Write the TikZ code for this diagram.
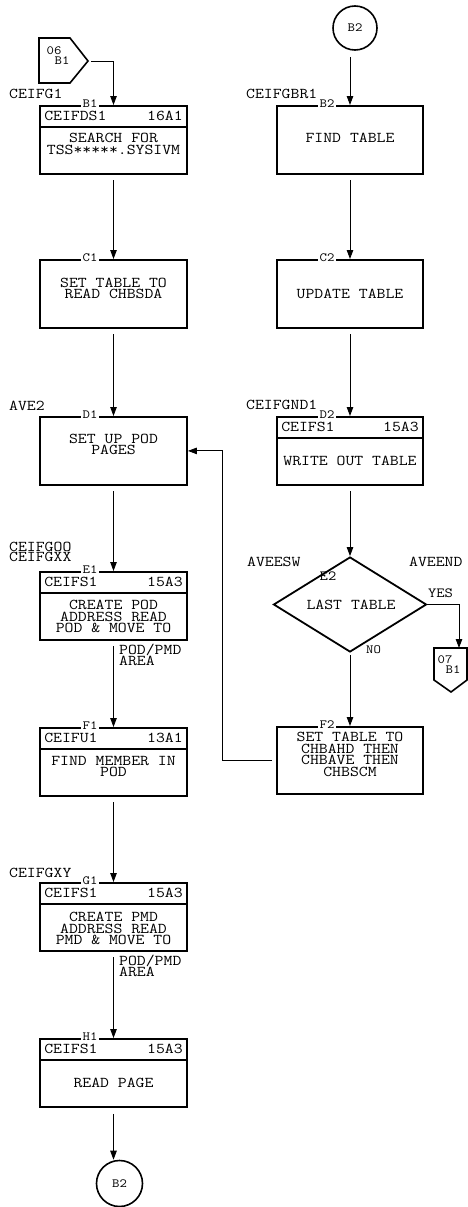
\documentclass[tikz,border=0pt]{standalone}
\usepackage{fontspec}
\newfontfamily\mono{Latin Modern Mono}[FakeStretch=1.15]
\usetikzlibrary{arrows.meta,calc,shapes.geometric}
\begin{document}
\begin{tikzpicture}[x=1pt,y=-1pt,
  box/.style={draw,line width=1.8pt,minimum width=147pt,minimum height=68pt,inner sep=0pt,anchor=north},
  divline/.style={line width=1.3pt},
  arr/.style={line width=0.9pt,-{Triangle[length=9pt,width=6.5pt]}},
  txt/.style={font=\mono\fontsize{15}{11.5}\selectfont,align=center,inner sep=0pt},
  side/.style={font=\mono\fontsize{15}{11}\selectfont,anchor=west,inner sep=0pt,align=left},
  hdrl/.style={font=\mono\fontsize{15}{11}\selectfont,anchor=west,inner sep=0pt},
  hdrr/.style={font=\mono\fontsize{15}{11}\selectfont,anchor=east,inner sep=0pt},
  edgelbl/.style={font=\mono\fontsize{12.5}{11}\selectfont,fill=white,inner sep=1.2pt},
  small/.style={font=\mono\fontsize{12.5}{11}\selectfont,inner sep=0pt},
  circ/.style={draw,circle,line width=1.6pt,inner sep=0pt,font=\mono\fontsize{12.5}{11}\selectfont},
  dia/.style={draw,diamond,line width=1.8pt,inner sep=0pt,minimum width=153pt,minimum height=95pt},
  conn/.style={line width=1.6pt,line join=miter}
]
\lineskiplimit=-20pt
\fill[white] (0,0) rectangle (468,1207);
\useasboundingbox (0,0) rectangle (468,1207);

% ---------- left column ----------
\draw[conn] (39,38) -- (70,38) -- (88,61) -- (70,83) -- (39,83) -- cycle;
\coordinate (c06) at (88,61);
\node[small] (c06a) at (54,51) {06};
\node[small] (c06b) at (62,61) {B1};

\node[box] (b1) at (113.5,105) {};
\node[box] (c1) at (113.5,259) {};
\node[box] (d1) at (113.5,416) {};
\node[box] (e1) at (113.5,571) {};
\node[box] (f1) at (113.5,727) {};
\node[box] (g1) at (113.5,882) {};
\node[box] (h1) at (113.5,1038) {};
\node[circ,minimum size=46pt] (bb2) at (119.5,1183.5) {B2};

% header dividers
\foreach \n in {b1,e1,f1,g1,h1}{
  \draw[divline] ($(\n.north west)+(0,22)$) -- ($(\n.north east)+(0,22)$);
}

% edge labels
\node[edgelbl] (lb1) at (90,104) {B1};
\node[edgelbl] (lc1) at (90,258) {C1};
\node[edgelbl] (ld1) at (90,415) {D1};
\node[edgelbl] (le1) at (90,570) {E1};
\node[edgelbl] (lf1) at (90,726) {F1};
\node[edgelbl] (lg1) at (90,881) {G1};
\node[edgelbl] (lh1) at (90,1037) {H1};

% header texts
\node[hdrl] (hb1l) at ($(b1.north west)+(5,11)$) {CEIFDS1};
\node[hdrr] (hb1r) at ($(b1.north east)+(-5,11)$) {16A1};
\node[hdrl] (he1l) at ($(e1.north west)+(5,11)$) {CEIFS1};
\node[hdrr] (he1r) at ($(e1.north east)+(-5,11)$) {15A3};
\node[hdrl] (hf1l) at ($(f1.north west)+(5,11)$) {CEIFU1};
\node[hdrr] (hf1r) at ($(f1.north east)+(-5,11)$) {13A1};
\node[hdrl] (hg1l) at ($(g1.north west)+(5,11)$) {CEIFS1};
\node[hdrr] (hg1r) at ($(g1.north east)+(-5,11)$) {15A3};
\node[hdrl] (hh1l) at ($(h1.north west)+(5,11)$) {CEIFS1};
\node[hdrr] (hh1r) at ($(h1.north east)+(-5,11)$) {15A3};

% body texts
\node[txt] (tb1) at (113.5,144) {SEARCH FOR\\{TSS*****.SYSIVM}};
\node[txt] (tc1) at (113.5,288.5) {SET TABLE TO\\READ CHBSDA};
\node[txt] (td1) at (113.5,444.5) {SET UP POD\\PAGES};
\node[txt] (te1) at (113.5,616.5) {CREATE POD\\ADDRESS READ\\POD \& MOVE TO};
\node[txt] (tf1) at (113.5,766.5) {FIND MEMBER IN\\POD};
\node[txt] (tg1) at (113.5,928.5) {CREATE PMD\\ADDRESS READ\\PMD \& MOVE TO};
\node[txt] (th1) at (113.5,1083) {READ PAGE};

% side labels
\node[side] (sceifg1) at (9,94) {CEIFG1};
\node[side] (save2) at (9,405.5) {AVE2};
\node[side,font=\mono\fontsize{15}{9.5}\selectfont] (sceifgoo) at (9,552) {CEIFGOO\\CEIFGXX};
\node[side] (sceifgxy) at (9,872.5) {CEIFGXY};
\node[side] (spod1) at (119,655) {POD/PMD\\AREA};
\node[side] (spod2) at (119,966) {POD/PMD\\AREA};

% ---------- right column ----------
\node[circ,minimum size=44pt] (tb2) at (355,28) {B2};
\node[box,minimum width=146pt] (b2) at (350,105) {};
\node[box,minimum width=146pt] (c2) at (350,259) {};
\node[box,minimum width=146pt] (d2) at (350,416) {};
\node[dia] (e2) at (350,604.5) {};
\node[box,minimum width=146pt,minimum height=67pt] (f2) at (350,726) {};

\draw[divline] ($(d2.north west)+(0,22)$) -- ($(d2.north east)+(0,22)$);

\node[edgelbl] (lb2) at (327,104) {B2};
\node[edgelbl] (lc2) at (327,258) {C2};
\node[edgelbl] (ld2) at (327,415) {D2};
\node[edgelbl] (lf2) at (327,725) {F2};

\node[hdrl] (hd2l) at ($(d2.north west)+(5,11)$) {CEIFS1};
\node[hdrr] (hd2r) at ($(d2.north east)+(-5,11)$) {15A3};

\node[txt] (tb2t) at (350,138) {FIND TABLE};
\node[txt] (tc2) at (350,294) {UPDATE TABLE};
\node[txt] (td2) at (350,461) {WRITE OUT TABLE};
\node[txt] (te2) at (351,605) {LAST TABLE};
\node[txt] (tf2) at (350,754.5) {SET TABLE TO\\CHBAHD THEN\\CHBAVE THEN\\CHBSCM};

\node[side] (sceifgbr1) at (246,93.5) {CEIFGBR1};
\node[side] (sceifgnd1) at (246,405) {CEIFGND1};
\node[side] (saveesw) at (247,561.5) {AVEESW};
\node[side] (saveend) at (409,561.5) {AVEEND};
\node[font=\mono\fontsize{14}{11}\selectfont,inner sep=0pt] (le2) at (328,576) {E2};
\node[small] (lno) at (373.5,650) {NO};
\node[font=\mono\fontsize{14}{11}\selectfont,inner sep=0pt] (lyes) at (440.5,593.5) {YES};

% off-page connector 07 B1
\draw[conn] (434,648) -- (467,648) -- (467,680) -- (451,692) -- (434,680) -- cycle;
\coordinate (c07) at (459,648);
\node[small] (c07a) at (445,660) {07};
\node[small] (c07b) at (453,670) {B1};

% ---------- connectors ----------
\draw[arr,shorten <=3pt] (c06) -| (b1.north);
\draw[arr,shorten <=5.5pt] (b1) -- (c1);
\draw[arr,shorten <=5.5pt] (c1) -- (d1);
\draw[arr,shorten <=5.5pt] (d1) -- (e1);
\draw[arr,shorten <=5.5pt] (e1) -- (f1);
\draw[arr,shorten <=5.5pt] (f1) -- (g1);
\draw[arr,shorten <=5.5pt] (g1) -- (h1);
\draw[arr,shorten <=6pt] (h1.south) -- (h1.south |- bb2.north);

\draw[arr,shorten <=6pt] (tb2.south -| b2.north) -- (b2.north);
\draw[arr,shorten <=5.5pt] (b2) -- (c2);
\draw[arr,shorten <=5.5pt] (c2) -- (d2);
\draw[arr,shorten <=5.5pt] (d2) -- (e2);
\draw[arr,shorten <=2pt] (e2) -- (f2);
\draw[arr] (e2.east) -| (c07);
\draw[arr,shorten <=4pt] (f2.west) -- ++(-54,0) |- (d1.east);
\end{tikzpicture}
\end{document}
